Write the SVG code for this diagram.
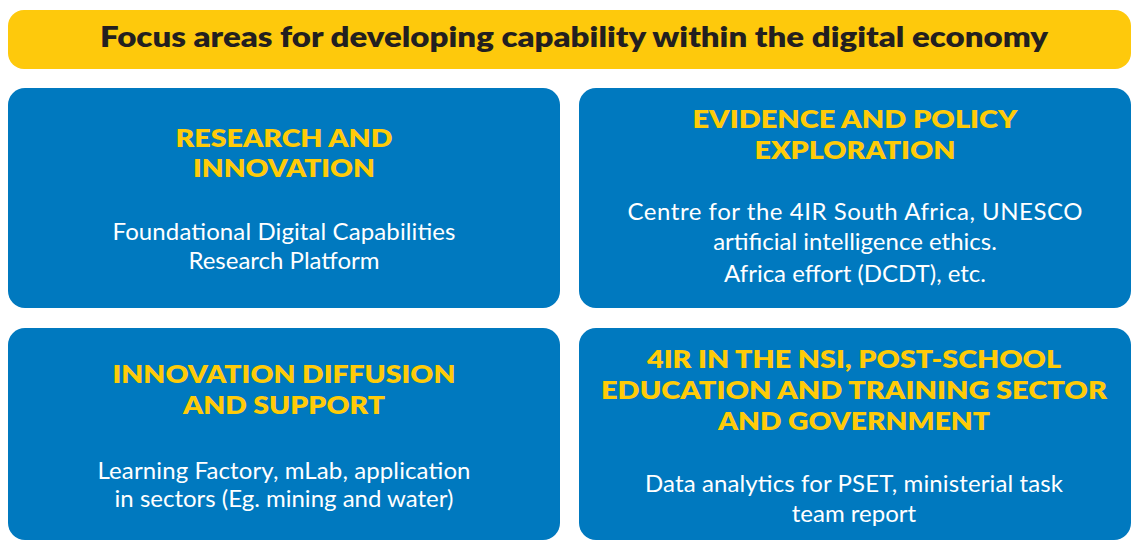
<svg xmlns="http://www.w3.org/2000/svg" width="1134" height="542" viewBox="0 0 1134 542">
  <style>
    .banner { fill: #FEC90C; }
    .card { fill: #0079BF; }
    .title { font-family: Lato, "Liberation Sans", sans-serif; font-weight: 800; font-size: 28.5px; fill: #231F20; text-anchor: middle; }
    .head { font-family: Lato, "Liberation Sans", sans-serif; font-weight: 800; font-size: 25px; fill: #FFCB08; text-anchor: middle; }
    .body { font-family: Lato, "Liberation Sans", sans-serif; font-weight: 400; font-size: 24px; fill: #FFFFFF; text-anchor: middle; }
  </style>

  <g id="title-banner">
    <rect class="banner" x="8" y="10" width="1123" height="59" rx="16"/>
    <text class="title" x="574" y="47" textLength="948" lengthAdjust="spacingAndGlyphs">Focus areas for developing capability within the digital economy</text>
  </g>

  <g id="research-innovation">
    <rect class="card" x="8" y="88" width="552" height="220" rx="17"/>
    <text class="head" x="284" y="146.5" textLength="217" lengthAdjust="spacingAndGlyphs">RESEARCH AND</text>
    <text class="head" x="284" y="177" textLength="182" lengthAdjust="spacingAndGlyphs">INNOVATION</text>
    <text class="body" x="284" y="239.5" textLength="343" lengthAdjust="spacing">Foundational Digital Capabilities</text>
    <text class="body" x="284" y="269">Research Platform</text>
  </g>

  <g id="evidence-policy">
    <rect class="card" x="579" y="88" width="552" height="220" rx="17"/>
    <text class="head" x="855" y="127.5" textLength="325" lengthAdjust="spacingAndGlyphs">EVIDENCE AND POLICY</text>
    <text class="head" x="855" y="158.5" textLength="201" lengthAdjust="spacingAndGlyphs">EXPLORATION</text>
    <text class="body" x="855" y="219.5" textLength="455" lengthAdjust="spacing">Centre for the 4IR South Africa, UNESCO</text>
    <text class="body" x="855" y="250">artificial intelligence ethics.</text>
    <text class="body" x="855" y="281.5">Africa effort (DCDT), etc.</text>
  </g>

  <g id="innovation-diffusion">
    <rect class="card" x="8" y="328" width="552" height="212" rx="17"/>
    <text class="head" x="284" y="382.5" textLength="343" lengthAdjust="spacingAndGlyphs">INNOVATION DIFFUSION</text>
    <text class="head" x="284" y="413.5" textLength="202" lengthAdjust="spacingAndGlyphs">AND SUPPORT</text>
    <text class="body" x="284" y="478.5" textLength="373" lengthAdjust="spacing">Learning Factory, mLab, application</text>
    <text class="body" x="284" y="507">in sectors (Eg. mining and water)</text>
  </g>

  <g id="nsi-pset-government">
    <rect class="card" x="579" y="328" width="552" height="212" rx="17"/>
    <text class="head" x="854" y="367.5" textLength="414" lengthAdjust="spacingAndGlyphs">4IR IN THE NSI, POST-SCHOOL</text>
    <text class="head" x="854" y="398.5" textLength="506" lengthAdjust="spacingAndGlyphs">EDUCATION AND TRAINING SECTOR</text>
    <text class="head" x="854" y="429.5" textLength="272" lengthAdjust="spacingAndGlyphs">AND GOVERNMENT</text>
    <text class="body" x="854" y="492" textLength="418" lengthAdjust="spacing">Data analytics for PSET, ministerial task</text>
    <text class="body" x="854" y="522">team report</text>
  </g>

  <!-- no connectors between the cards -->
  <g id="connectors"/>
</svg>
